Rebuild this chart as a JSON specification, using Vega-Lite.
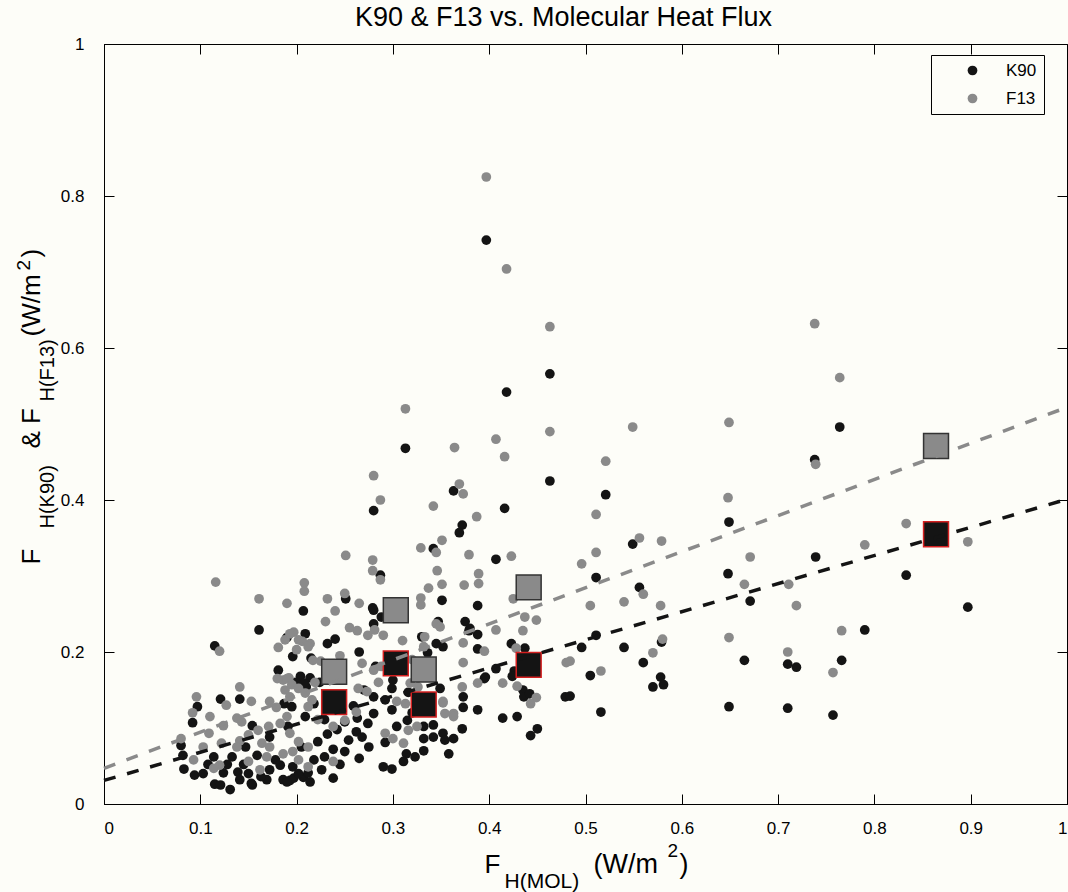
{
"$schema":"https://vega.github.io/schema/vega-lite/v6.json",
"width":963,"height":760,
"autosize":{"type":"none"},
"padding":{"left":104,"top":44,"right":1,"bottom":88},
"background":"#fdfdf8",
"title":{"text":"K90 & F13 vs. Molecular Heat Flux","font":"Liberation Sans","fontSize":27,"fontWeight":"normal","color":"#000","offset":3,"anchor":"middle","dx":-22},
"config":{
 "view":{"stroke":"#000","strokeWidth":1},
 "axis":{"grid":false,"labelFont":"Liberation Sans","titleFont":"Liberation Sans","labelColor":"#000","titleColor":"#000","domainColor":"#000","tickColor":"#000","titleFontWeight":"normal","labelFontSize":17}
},
"datasets":{
"pts":[
{"series":"K90","x":0.397,"y":0.742},{"series":"K90","x":0.418,"y":0.542},{"series":"K90","x":0.463,"y":0.566},{"series":"K90","x":0.313,"y":0.468},{"series":"K90","x":0.463,"y":0.425},{"series":"K90","x":0.521,"y":0.407},{"series":"K90","x":0.280,"y":0.386},{"series":"K90","x":0.363,"y":0.412},{"series":"K90","x":0.416,"y":0.389},{"series":"K90","x":0.372,"y":0.367},{"series":"K90","x":0.369,"y":0.357},{"series":"K90","x":0.342,"y":0.336},{"series":"K90","x":0.287,"y":0.301},{"series":"K90","x":0.251,"y":0.270},{"series":"K90","x":0.279,"y":0.258},{"series":"K90","x":0.351,"y":0.268},{"series":"K90","x":0.207,"y":0.254},{"series":"K90","x":0.549,"y":0.342},{"series":"K90","x":0.407,"y":0.322},{"series":"K90","x":0.511,"y":0.298},{"series":"K90","x":0.556,"y":0.285},{"series":"K90","x":0.388,"y":0.261},{"series":"K90","x":0.375,"y":0.240},{"series":"K90","x":0.379,"y":0.228},{"series":"K90","x":0.388,"y":0.223},{"series":"K90","x":0.511,"y":0.222},{"series":"K90","x":0.423,"y":0.211},{"series":"K90","x":0.352,"y":0.207},{"series":"K90","x":0.437,"y":0.205},{"series":"K90","x":0.496,"y":0.206},{"series":"K90","x":0.540,"y":0.206},{"series":"K90","x":0.388,"y":0.204},{"series":"K90","x":0.579,"y":0.213},{"series":"K90","x":0.560,"y":0.186},{"series":"K90","x":0.407,"y":0.178},{"series":"K90","x":0.426,"y":0.175},{"series":"K90","x":0.424,"y":0.168},{"series":"K90","x":0.395,"y":0.165},{"series":"K90","x":0.505,"y":0.169},{"series":"K90","x":0.578,"y":0.167},{"series":"K90","x":0.570,"y":0.154},{"series":"K90","x":0.581,"y":0.157},{"series":"K90","x":0.435,"y":0.150},{"series":"K90","x":0.436,"y":0.141},{"series":"K90","x":0.442,"y":0.145},{"series":"K90","x":0.479,"y":0.141},{"series":"K90","x":0.484,"y":0.142},{"series":"K90","x":0.373,"y":0.141},{"series":"K90","x":0.373,"y":0.127},{"series":"K90","x":0.388,"y":0.124},{"series":"K90","x":0.516,"y":0.121},{"series":"K90","x":0.414,"y":0.113},{"series":"K90","x":0.429,"y":0.115},{"series":"K90","x":0.450,"y":0.099},{"series":"K90","x":0.443,"y":0.090},{"series":"K90","x":0.372,"y":0.099},{"series":"K90","x":0.363,"y":0.086},
{"series":"K90","x":0.764,"y":0.496},{"series":"K90","x":0.738,"y":0.453},{"series":"K90","x":0.649,"y":0.371},{"series":"K90","x":0.739,"y":0.325},{"series":"K90","x":0.648,"y":0.303},{"series":"K90","x":0.833,"y":0.301},{"series":"K90","x":0.671,"y":0.267},{"series":"K90","x":0.790,"y":0.229},{"series":"K90","x":0.665,"y":0.189},{"series":"K90","x":0.710,"y":0.184},{"series":"K90","x":0.719,"y":0.180},{"series":"K90","x":0.766,"y":0.189},{"series":"K90","x":0.649,"y":0.128},{"series":"K90","x":0.710,"y":0.126},{"series":"K90","x":0.757,"y":0.117},{"series":"K90","x":0.897,"y":0.259},
{"series":"K90","x":0.161,"y":0.229},{"series":"K90","x":0.190,"y":0.219},{"series":"K90","x":0.209,"y":0.224},{"series":"K90","x":0.232,"y":0.211},{"series":"K90","x":0.240,"y":0.217},{"series":"K90","x":0.115,"y":0.208},{"series":"K90","x":0.196,"y":0.194},{"series":"K90","x":0.215,"y":0.192},{"series":"K90","x":0.181,"y":0.176},{"series":"K90","x":0.204,"y":0.168},{"series":"K90","x":0.214,"y":0.166},{"series":"K90","x":0.199,"y":0.160},{"series":"K90","x":0.210,"y":0.154},{"series":"K90","x":0.121,"y":0.138},{"series":"K90","x":0.141,"y":0.138},{"series":"K90","x":0.097,"y":0.128},{"series":"K90","x":0.092,"y":0.107},{"series":"K90","x":0.080,"y":0.077},{"series":"K90","x":0.083,"y":0.046},{"series":"K90","x":0.094,"y":0.038},{"series":"K90","x":0.115,"y":0.026},{"series":"K90","x":0.121,"y":0.025},{"series":"K90","x":0.131,"y":0.019},{"series":"K90","x":0.154,"y":0.025},{"series":"K90","x":0.169,"y":0.032},{"series":"K90","x":0.186,"y":0.032},{"series":"K90","x":0.193,"y":0.031},{"series":"K90","x":0.197,"y":0.034},{"series":"K90","x":0.207,"y":0.035},{"series":"K90","x":0.214,"y":0.029},{"series":"K90","x":0.238,"y":0.034},
{"series":"K90","x":0.187,"y":0.132},{"series":"K90","x":0.154,"y":0.103},{"series":"K90","x":0.082,"y":0.064},{"series":"K90","x":0.114,"y":0.062},{"series":"K90","x":0.133,"y":0.062},{"series":"K90","x":0.159,"y":0.064},{"series":"K90","x":0.103,"y":0.040},{"series":"K90","x":0.124,"y":0.041},{"series":"K90","x":0.139,"y":0.042},{"series":"K90","x":0.150,"y":0.040},{"series":"K90","x":0.141,"y":0.032},{"series":"K90","x":0.153,"y":0.027},{"series":"K90","x":0.183,"y":0.051},{"series":"K90","x":0.191,"y":0.102},
{"series":"K90","x":0.280,"y":0.255},{"series":"K90","x":0.288,"y":0.246},{"series":"K90","x":0.280,"y":0.237},{"series":"K90","x":0.265,"y":0.200},{"series":"K90","x":0.282,"y":0.181},{"series":"K90","x":0.208,"y":0.159},{"series":"K90","x":0.224,"y":0.160},{"series":"K90","x":0.195,"y":0.128},{"series":"K90","x":0.209,"y":0.115},{"series":"K90","x":0.229,"y":0.111},{"series":"K90","x":0.250,"y":0.108},{"series":"K90","x":0.263,"y":0.113},{"series":"K90","x":0.262,"y":0.095},{"series":"K90","x":0.259,"y":0.129},{"series":"K90","x":0.280,"y":0.141},{"series":"K90","x":0.292,"y":0.137},{"series":"K90","x":0.274,"y":0.106},{"series":"K90","x":0.280,"y":0.119},{"series":"K90","x":0.292,"y":0.081},{"series":"K90","x":0.205,"y":0.075},{"series":"K90","x":0.222,"y":0.082},{"series":"K90","x":0.238,"y":0.072},{"series":"K90","x":0.250,"y":0.069},{"series":"K90","x":0.254,"y":0.084},{"series":"K90","x":0.229,"y":0.062},{"series":"K90","x":0.196,"y":0.049},{"series":"K90","x":0.202,"y":0.040},{"series":"K90","x":0.212,"y":0.041},{"series":"K90","x":0.190,"y":0.029},{"series":"K90","x":0.290,"y":0.049},{"series":"K90","x":0.299,"y":0.046},
{"series":"K90","x":0.330,"y":0.220},{"series":"K90","x":0.345,"y":0.211},{"series":"K90","x":0.336,"y":0.199},{"series":"K90","x":0.396,"y":0.167},{"series":"K90","x":0.349,"y":0.152},{"series":"K90","x":0.300,"y":0.163},{"series":"K90","x":0.299,"y":0.152},{"series":"K90","x":0.316,"y":0.147},{"series":"K90","x":0.299,"y":0.124},{"series":"K90","x":0.342,"y":0.104},{"series":"K90","x":0.304,"y":0.102},{"series":"K90","x":0.332,"y":0.102},{"series":"K90","x":0.332,"y":0.086},{"series":"K90","x":0.342,"y":0.088},{"series":"K90","x":0.352,"y":0.093},{"series":"K90","x":0.354,"y":0.084},{"series":"K90","x":0.332,"y":0.070},{"series":"K90","x":0.314,"y":0.066},{"series":"K90","x":0.311,"y":0.056},{"series":"K90","x":0.323,"y":0.062},{"series":"K90","x":0.358,"y":0.066},{"series":"K90","x":0.347,"y":0.240},{"series":"K90","x":0.380,"y":0.231},
{"series":"K90","x":0.172,"y":0.045},{"series":"K90","x":0.178,"y":0.058},{"series":"K90","x":0.145,"y":0.052},{"series":"K90","x":0.128,"y":0.052},{"series":"K90","x":0.163,"y":0.036},{"series":"K90","x":0.108,"y":0.052},{"series":"K90","x":0.218,"y":0.058},{"series":"K90","x":0.226,"y":0.045},{"series":"K90","x":0.245,"y":0.052},{"series":"K90","x":0.232,"y":0.092},{"series":"K90","x":0.242,"y":0.098},{"series":"K90","x":0.268,"y":0.088},{"series":"K90","x":0.270,"y":0.150},{"series":"K90","x":0.246,"y":0.128},{"series":"K90","x":0.218,"y":0.132},{"series":"K90","x":0.172,"y":0.088},{"series":"K90","x":0.147,"y":0.075},{"series":"K90","x":0.265,"y":0.060},{"series":"K90","x":0.275,"y":0.075},{"series":"K90","x":0.315,"y":0.110},{"series":"K90","x":0.320,"y":0.120},{"series":"K90","x":0.310,"y":0.175},
{"series":"F13","x":0.397,"y":0.825},{"series":"F13","x":0.418,"y":0.704},{"series":"F13","x":0.463,"y":0.628},{"series":"F13","x":0.313,"y":0.520},{"series":"F13","x":0.463,"y":0.490},{"series":"F13","x":0.549,"y":0.496},{"series":"F13","x":0.407,"y":0.480},{"series":"F13","x":0.364,"y":0.469},{"series":"F13","x":0.280,"y":0.432},{"series":"F13","x":0.287,"y":0.400},{"series":"F13","x":0.369,"y":0.421},{"series":"F13","x":0.373,"y":0.408},{"series":"F13","x":0.342,"y":0.392},{"series":"F13","x":0.387,"y":0.378},{"series":"F13","x":0.351,"y":0.347},{"series":"F13","x":0.329,"y":0.337},{"series":"F13","x":0.345,"y":0.331},{"series":"F13","x":0.379,"y":0.328},{"series":"F13","x":0.251,"y":0.327},{"series":"F13","x":0.279,"y":0.321},{"series":"F13","x":0.279,"y":0.307},{"series":"F13","x":0.287,"y":0.295},{"series":"F13","x":0.346,"y":0.307},{"series":"F13","x":0.351,"y":0.289},{"series":"F13","x":0.337,"y":0.284},{"series":"F13","x":0.374,"y":0.288},{"series":"F13","x":0.389,"y":0.290},{"series":"F13","x":0.208,"y":0.291},{"series":"F13","x":0.208,"y":0.280},{"series":"F13","x":0.161,"y":0.270},{"series":"F13","x":0.190,"y":0.264},{"series":"F13","x":0.232,"y":0.270},{"series":"F13","x":0.250,"y":0.277},{"series":"F13","x":0.265,"y":0.264},{"series":"F13","x":0.329,"y":0.271},{"series":"F13","x":0.329,"y":0.262},{"series":"F13","x":0.116,"y":0.292},{"series":"F13","x":0.120,"y":0.201},
{"series":"F13","x":0.416,"y":0.457},{"series":"F13","x":0.521,"y":0.451},{"series":"F13","x":0.511,"y":0.381},{"series":"F13","x":0.556,"y":0.350},{"series":"F13","x":0.579,"y":0.346},{"series":"F13","x":0.511,"y":0.331},{"series":"F13","x":0.423,"y":0.326},{"series":"F13","x":0.496,"y":0.316},{"series":"F13","x":0.389,"y":0.303},{"series":"F13","x":0.560,"y":0.276},{"series":"F13","x":0.425,"y":0.270},{"series":"F13","x":0.505,"y":0.261},{"series":"F13","x":0.540,"y":0.266},{"series":"F13","x":0.578,"y":0.261},{"series":"F13","x":0.437,"y":0.246},{"series":"F13","x":0.449,"y":0.242},{"series":"F13","x":0.407,"y":0.229},{"series":"F13","x":0.435,"y":0.228},{"series":"F13","x":0.373,"y":0.212},{"series":"F13","x":0.428,"y":0.205},{"series":"F13","x":0.395,"y":0.201},{"series":"F13","x":0.570,"y":0.199},{"series":"F13","x":0.580,"y":0.217},{"series":"F13","x":0.480,"y":0.186},{"series":"F13","x":0.484,"y":0.188},{"series":"F13","x":0.373,"y":0.186},{"series":"F13","x":0.516,"y":0.175},{"series":"F13","x":0.388,"y":0.159},{"series":"F13","x":0.414,"y":0.159},{"series":"F13","x":0.429,"y":0.155},{"series":"F13","x":0.372,"y":0.154},{"series":"F13","x":0.449,"y":0.140},{"series":"F13","x":0.443,"y":0.132},{"series":"F13","x":0.352,"y":0.133},{"series":"F13","x":0.363,"y":0.119},
{"series":"F13","x":0.738,"y":0.632},{"series":"F13","x":0.764,"y":0.561},{"series":"F13","x":0.649,"y":0.502},{"series":"F13","x":0.739,"y":0.447},{"series":"F13","x":0.648,"y":0.403},{"series":"F13","x":0.833,"y":0.369},{"series":"F13","x":0.790,"y":0.341},{"series":"F13","x":0.671,"y":0.325},{"series":"F13","x":0.665,"y":0.289},{"series":"F13","x":0.711,"y":0.289},{"series":"F13","x":0.719,"y":0.261},{"series":"F13","x":0.766,"y":0.228},{"series":"F13","x":0.649,"y":0.219},{"series":"F13","x":0.710,"y":0.200},{"series":"F13","x":0.757,"y":0.173},{"series":"F13","x":0.897,"y":0.345},
{"series":"F13","x":0.240,"y":0.254},{"series":"F13","x":0.197,"y":0.226},{"series":"F13","x":0.188,"y":0.216},{"series":"F13","x":0.206,"y":0.214},{"series":"F13","x":0.214,"y":0.211},{"series":"F13","x":0.181,"y":0.206},{"series":"F13","x":0.200,"y":0.203},{"series":"F13","x":0.225,"y":0.188},{"series":"F13","x":0.180,"y":0.165},{"series":"F13","x":0.192,"y":0.166},{"series":"F13","x":0.141,"y":0.154},{"series":"F13","x":0.096,"y":0.141},{"series":"F13","x":0.153,"y":0.135},{"series":"F13","x":0.092,"y":0.120},{"series":"F13","x":0.080,"y":0.086},{"series":"F13","x":0.141,"y":0.083},
{"series":"F13","x":0.186,"y":0.163},{"series":"F13","x":0.172,"y":0.135},{"series":"F13","x":0.179,"y":0.127},{"series":"F13","x":0.138,"y":0.113},{"series":"F13","x":0.143,"y":0.108},{"series":"F13","x":0.124,"y":0.103},{"series":"F13","x":0.109,"y":0.093},{"series":"F13","x":0.160,"y":0.097},{"series":"F13","x":0.171,"y":0.102},{"series":"F13","x":0.103,"y":0.075},{"series":"F13","x":0.122,"y":0.080},{"series":"F13","x":0.138,"y":0.075},{"series":"F13","x":0.164,"y":0.080},{"series":"F13","x":0.172,"y":0.075},{"series":"F13","x":0.150,"y":0.091},{"series":"F13","x":0.093,"y":0.058},{"series":"F13","x":0.120,"y":0.051},{"series":"F13","x":0.150,"y":0.056},{"series":"F13","x":0.169,"y":0.062},{"series":"F13","x":0.114,"y":0.047},{"series":"F13","x":0.162,"y":0.045},{"series":"F13","x":0.186,"y":0.066},{"series":"F13","x":0.188,"y":0.150},{"series":"F13","x":0.183,"y":0.106},
{"series":"F13","x":0.263,"y":0.228},{"series":"F13","x":0.274,"y":0.222},{"series":"F13","x":0.281,"y":0.229},{"series":"F13","x":0.290,"y":0.222},{"series":"F13","x":0.193,"y":0.224},{"series":"F13","x":0.202,"y":0.216},{"series":"F13","x":0.212,"y":0.207},{"series":"F13","x":0.217,"y":0.189},{"series":"F13","x":0.280,"y":0.176},{"series":"F13","x":0.288,"y":0.181},{"series":"F13","x":0.190,"y":0.165},{"series":"F13","x":0.195,"y":0.157},{"series":"F13","x":0.202,"y":0.152},{"series":"F13","x":0.209,"y":0.146},{"series":"F13","x":0.219,"y":0.160},{"series":"F13","x":0.193,"y":0.141},{"series":"F13","x":0.216,"y":0.137},{"series":"F13","x":0.212,"y":0.128},{"series":"F13","x":0.190,"y":0.115},{"series":"F13","x":0.222,"y":0.111},{"series":"F13","x":0.238,"y":0.102},{"series":"F13","x":0.262,"y":0.121},{"series":"F13","x":0.264,"y":0.152},{"series":"F13","x":0.273,"y":0.148},{"series":"F13","x":0.292,"y":0.093},{"series":"F13","x":0.193,"y":0.093},{"series":"F13","x":0.202,"y":0.082},{"series":"F13","x":0.196,"y":0.069},{"series":"F13","x":0.212,"y":0.075},{"series":"F13","x":0.238,"y":0.056},{"series":"F13","x":0.202,"y":0.058},{"series":"F13","x":0.212,"y":0.049},
{"series":"F13","x":0.345,"y":0.237},{"series":"F13","x":0.349,"y":0.233},{"series":"F13","x":0.333,"y":0.220},{"series":"F13","x":0.332,"y":0.207},{"series":"F13","x":0.318,"y":0.159},{"series":"F13","x":0.326,"y":0.154},{"series":"F13","x":0.304,"y":0.135},{"series":"F13","x":0.313,"y":0.132},{"series":"F13","x":0.352,"y":0.135},{"series":"F13","x":0.354,"y":0.119},{"series":"F13","x":0.363,"y":0.115},{"series":"F13","x":0.316,"y":0.097},{"series":"F13","x":0.325,"y":0.102},{"series":"F13","x":0.300,"y":0.086},{"series":"F13","x":0.311,"y":0.080},
{"series":"F13","x":0.245,"y":0.195},{"series":"F13","x":0.255,"y":0.232},{"series":"F13","x":0.268,"y":0.185},{"series":"F13","x":0.232,"y":0.175},{"series":"F13","x":0.245,"y":0.140},{"series":"F13","x":0.250,"y":0.110},{"series":"F13","x":0.285,"y":0.160},{"series":"F13","x":0.310,"y":0.215},{"series":"F13","x":0.320,"y":0.190},{"series":"F13","x":0.230,"y":0.240},{"series":"F13","x":0.127,"y":0.130},{"series":"F13","x":0.110,"y":0.115}
],
"bins":[
{"series":"K90","x":0.239,"y":0.134},{"series":"K90","x":0.303,"y":0.185},{"series":"K90","x":0.332,"y":0.131},{"series":"K90","x":0.441,"y":0.183},{"series":"K90","x":0.864,"y":0.355},
{"series":"F13","x":0.239,"y":0.174},{"series":"F13","x":0.303,"y":0.255},{"series":"F13","x":0.332,"y":0.177},{"series":"F13","x":0.441,"y":0.285},{"series":"F13","x":0.864,"y":0.471}
],
"fits":[
{"series":"K90","x":0,"y":0.031},{"series":"K90","x":1,"y":0.401},
{"series":"F13","x":0,"y":0.047},{"series":"F13","x":1,"y":0.522}
]
},
"layer":[
{
 "data":{"name":"pts"},
 "transform":[{"filter":"datum.series === 'K90'"}],
 "mark":{"type":"circle","size":95,"opacity":1},
 "encoding":{
  "x":{"field":"x","type":"quantitative","scale":{"domain":[0,1],"nice":false},
   "axis":{"orient":"bottom","values":[0,0.1,0.2,0.3,0.4,0.5,0.6,0.7,0.8,0.9,1],"format":".1~f","tickSize":-10,"labelPadding":26,
    "title":"F","titleFontSize":26,"titleX":380,"titleY":68,"titleAlign":"left","titleBaseline":"alphabetic","titleAngle":0}},
  "y":{"field":"y","type":"quantitative","scale":{"domain":[0,1],"nice":false},
   "axis":{"orient":"left","values":[0,0.2,0.4,0.6,0.8,1],"format":".1~f","tickSize":-10,"labelPadding":30,
    "title":"F","titleFontSize":26,"titleX":-65,"titleY":520,"titleAlign":"left","titleBaseline":"alphabetic","titleAngle":270}},
  "color":{"field":"series","type":"nominal","scale":{"domain":["K90","F13"],"range":["#141414","#8a8a8a"]},
   "legend":{"orient":"none","legendX":827,"legendY":11,"title":null,"strokeColor":"#000","fillColor":"#fdfdf8","padding":7,"symbolOffset":26,"labelOffset":25,"labelFontSize":17,"labelFont":"Liberation Sans","labelColor":"#000","symbolSize":95,"rowPadding":10,"symbolType":"circle","symbolStrokeWidth":0}}
 }
},
{
 "data":{"name":"pts"},
 "transform":[{"filter":"datum.series === 'F13'"}],
 "mark":{"type":"circle","size":95,"opacity":1},
 "encoding":{
  "x":{"field":"x","type":"quantitative","scale":{"domain":[0,1],"nice":false},
   "axis":{"orient":"top","values":[0,0.1,0.2,0.3,0.4,0.5,0.6,0.7,0.8,0.9,1],"tickSize":-10,"labels":false,"domain":false,
    "title":")","titleFontSize":26,"titleX":-65,"titleY":213,"titleAlign":"left","titleBaseline":"alphabetic","titleAngle":270}},
  "y":{"field":"y","type":"quantitative","scale":{"domain":[0,1],"nice":false},
   "axis":{"orient":"right","values":[0,0.2,0.4,0.6,0.8,1],"tickSize":-10,"labels":false,"domain":false,
    "title":"2","titleFontSize":19,"titleX":-1038,"titleY":226,"titleAlign":"left","titleBaseline":"alphabetic","titleAngle":270}},
  "color":{"field":"series","type":"nominal","scale":{"domain":["K90","F13"],"range":["#141414","#8a8a8a"]}}
 }
},
{
 "data":{"name":"bins"},
 "transform":[{"filter":"datum.series === 'K90'"}],
 "mark":{"type":"square","size":620,"filled":true,"fill":"#141414","stroke":"#d42020","strokeWidth":1.5,"opacity":1},
 "encoding":{
  "x":{"field":"x","type":"quantitative","scale":{"domain":[0,1],"nice":false},
   "axis":{"orient":"bottom","ticks":false,"labels":false,"domain":false,"title":"H(MOL)","titleFontSize":21,"titleX":400,"titleY":83,"titleAlign":"left","titleBaseline":"alphabetic","titleAngle":0}},
  "y":{"field":"y","type":"quantitative","scale":{"domain":[0,1],"nice":false},
   "axis":{"orient":"left","ticks":false,"labels":false,"domain":false,"title":"H(K90)","titleFontSize":20,"titleX":-51,"titleY":484,"titleAlign":"left","titleBaseline":"alphabetic","titleAngle":270}}
 }
},
{
 "data":{"name":"bins"},
 "transform":[{"filter":"datum.series === 'F13'"}],
 "mark":{"type":"square","size":620,"filled":true,"fill":"#8a8a8a","stroke":"#333333","strokeWidth":1.5,"opacity":1},
 "encoding":{
  "x":{"field":"x","type":"quantitative","scale":{"domain":[0,1],"nice":false},
   "axis":{"orient":"bottom","ticks":false,"labels":false,"domain":false,"title":"(W/m","titleFontSize":27,"titleX":489,"titleY":68,"titleAlign":"left","titleBaseline":"alphabetic","titleAngle":0}},
  "y":{"field":"y","type":"quantitative","scale":{"domain":[0,1],"nice":false},
   "axis":{"orient":"left","ticks":false,"labels":false,"domain":false,"title":"& F","titleFontSize":26,"titleX":-65,"titleY":404,"titleAlign":"left","titleBaseline":"alphabetic","titleAngle":270}}
 }
},
{
 "data":{"name":"fits"},
 "transform":[{"filter":"datum.series === 'K90'"}],
 "mark":{"type":"line","stroke":"#141414","strokeWidth":3.5,"strokeDash":[12,12]},
 "encoding":{
  "x":{"field":"x","type":"quantitative","scale":{"domain":[0,1],"nice":false},
   "axis":{"orient":"bottom","ticks":false,"labels":false,"domain":false,"title":"2","titleFontSize":19,"titleX":563,"titleY":52,"titleAlign":"left","titleBaseline":"alphabetic","titleAngle":0}},
  "y":{"field":"y","type":"quantitative","scale":{"domain":[0,1],"nice":false},
   "axis":{"orient":"left","ticks":false,"labels":false,"domain":false,"title":"H(F13)","titleFontSize":20,"titleX":-51,"titleY":357,"titleAlign":"left","titleBaseline":"alphabetic","titleAngle":270}}
 }
},
{
 "data":{"name":"fits"},
 "transform":[{"filter":"datum.series === 'F13'"}],
 "mark":{"type":"line","stroke":"#8a8a8a","strokeWidth":3.5,"strokeDash":[12,12]},
 "encoding":{
  "x":{"field":"x","type":"quantitative","scale":{"domain":[0,1],"nice":false},
   "axis":{"orient":"bottom","ticks":false,"labels":false,"domain":false,"title":")","titleFontSize":27,"titleX":575,"titleY":68,"titleAlign":"left","titleBaseline":"alphabetic","titleAngle":0}},
  "y":{"field":"y","type":"quantitative","scale":{"domain":[0,1],"nice":false},
   "axis":{"orient":"left","ticks":false,"labels":false,"domain":false,"title":"(W/m","titleFontSize":26,"titleX":-65,"titleY":292,"titleAlign":"left","titleBaseline":"alphabetic","titleAngle":270}}
 }
}
],
"resolve":{"scale":{"x":"independent","y":"independent"}}
}
